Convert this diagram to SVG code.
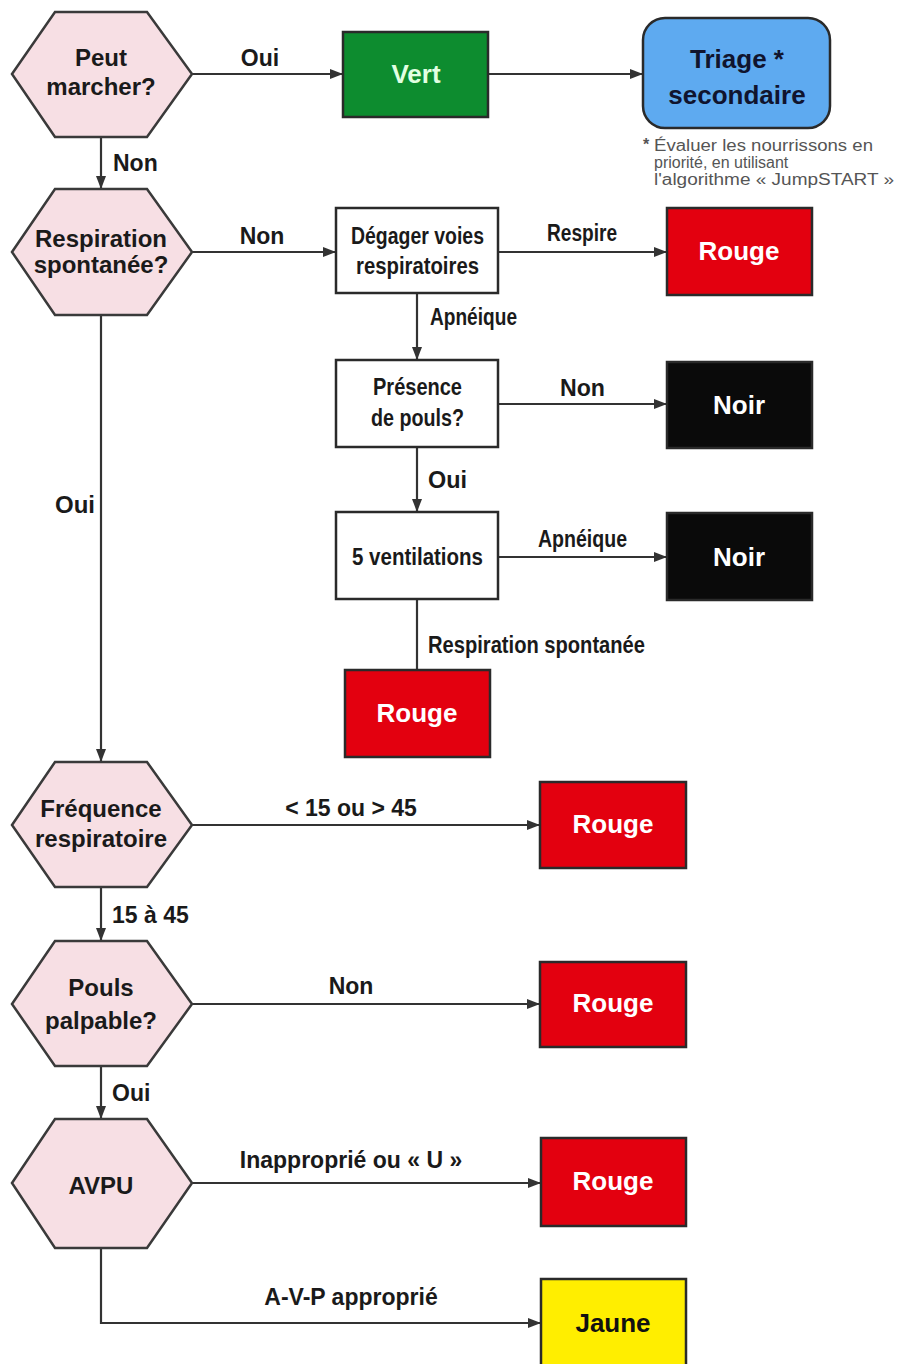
<svg xmlns="http://www.w3.org/2000/svg" width="902" height="1364" viewBox="0 0 902 1364">
<style>
.hex{fill:#f7dfe4;stroke:#3a3a3a;stroke-width:2.5}
.box{stroke:#2a2a2a;stroke-width:2.5}
.white{fill:#ffffff}
.red{fill:#e3000f}
.black{fill:#0a0a0a}
.green{fill:#0d8c2f}
.yellow{fill:#ffee00}
.blue{fill:#5eaaf0}
.ht{font-family:"Liberation Sans",Arial,sans-serif;font-weight:bold;font-size:24px;fill:#1a1a1a;text-anchor:middle;dominant-baseline:central}
.bt{font-family:"Liberation Sans",Arial,sans-serif;font-weight:bold;font-size:26px;text-anchor:middle;dominant-baseline:central}
.ct{font-family:"Liberation Sans",Arial,sans-serif;font-weight:bold;font-size:23px;fill:#1a1a1a;dominant-baseline:central}
.lb{font-family:"Liberation Sans",Arial,sans-serif;font-weight:bold;font-size:23px;fill:#1a1a1a;dominant-baseline:central}
.mid{text-anchor:middle}
.fn{font-family:"Liberation Sans",Arial,sans-serif;font-size:16px;fill:#555555}
.ln{fill:none;stroke:#333333;stroke-width:2.2}
</style>
<defs>
<marker id="ah" markerUnits="userSpaceOnUse" markerWidth="13" markerHeight="10" refX="12" refY="5" orient="auto">
<path d="M0,0 L13,5 L0,10 z" fill="#333333"/>
</marker>
</defs>
<rect width="902" height="1364" fill="#ffffff"/>

<g id="connectors">
<path class="ln" d="M192,74 H342" marker-end="url(#ah)"/>
<path class="ln" d="M488,74 H642" marker-end="url(#ah)"/>
<path class="ln" d="M101,137 V188" marker-end="url(#ah)"/>
<path class="ln" d="M192,252 H335" marker-end="url(#ah)"/>
<path class="ln" d="M498,252 H666" marker-end="url(#ah)"/>
<path class="ln" d="M417,293 V359" marker-end="url(#ah)"/>
<path class="ln" d="M498,404 H666" marker-end="url(#ah)"/>
<path class="ln" d="M417,447 V511" marker-end="url(#ah)"/>
<path class="ln" d="M498,557 H666" marker-end="url(#ah)"/>
<path class="ln" d="M417,599 V669"/>
<path class="ln" d="M101,315 V761" marker-end="url(#ah)"/>
<path class="ln" d="M192,825 H539" marker-end="url(#ah)"/>
<path class="ln" d="M101,887 V940" marker-end="url(#ah)"/>
<path class="ln" d="M192,1004 H539" marker-end="url(#ah)"/>
<path class="ln" d="M101,1066 V1118" marker-end="url(#ah)"/>
<path class="ln" d="M192,1183 H540" marker-end="url(#ah)"/>
<path class="ln" d="M101,1248 V1323 H540" marker-end="url(#ah)"/>
<text class="lb mid" x="260" y="58">Oui</text>
<text class="lb" x="113" y="163">Non</text>
<text class="lb mid" x="262" y="236">Non</text>
<text class="ct" x="547" y="233" textLength="70" lengthAdjust="spacingAndGlyphs">Respire</text>
<text class="ct" x="430" y="317" textLength="87" lengthAdjust="spacingAndGlyphs">Apnéique</text>
<text class="ct" x="560" y="388" textLength="45" lengthAdjust="spacingAndGlyphs">Non</text>
<text class="ct" x="428" y="480" textLength="39" lengthAdjust="spacingAndGlyphs">Oui</text>
<text class="ct" x="538" y="539" textLength="89" lengthAdjust="spacingAndGlyphs">Apnéique</text>
<text class="ct" x="428" y="645" textLength="217" lengthAdjust="spacingAndGlyphs">Respiration spontanée</text>
<text class="ct" x="55" y="505" textLength="40" lengthAdjust="spacingAndGlyphs">Oui</text>
<text class="lb mid" x="351" y="808">&lt; 15 ou &gt; 45</text>
<text class="lb" x="112" y="915">15 à 45</text>
<text class="lb mid" x="351" y="986">Non</text>
<text class="lb" x="112" y="1093">Oui</text>
<text class="lb mid" x="351" y="1160">Inapproprié ou « U »</text>
<text class="lb mid" x="351" y="1297">A-V-P approprié</text>
</g>

<g id="peut-marcher">
<polygon class="hex" points="12,74 55,12 147,12 192,74 147,137 55,137"/>
<text class="ht" x="101" y="57">Peut</text>
<text class="ht" x="101" y="86">marcher?</text>
</g>
<g id="vert">
<rect class="box green" x="343" y="32" width="145" height="85"/>
<text class="bt" x="416" y="74" fill="#e2ffe2">Vert</text>
</g>
<g id="triage-secondaire">
<rect class="box blue" x="643" y="18" width="187" height="110" rx="22"/>
<text class="bt" x="737" y="59" fill="#10142e" font-size="29">Triage *</text>
<text class="bt" x="737" y="95" fill="#10142e" font-size="29">secondaire</text>
</g>
<g id="footnote">
<text class="fn" x="643" y="150" font-weight="bold">*</text>
<text class="fn" x="654" y="151" textLength="219" lengthAdjust="spacingAndGlyphs">Évaluer les nourrissons en</text>
<text class="fn" x="654" y="168">priorité, en utilisant</text>
<text class="fn" x="654" y="185" textLength="240" lengthAdjust="spacingAndGlyphs">l'algorithme « JumpSTART »</text>
</g>

<g id="respiration-spontanee">
<polygon class="hex" points="12,252 55,189 147,189 192,252 147,315 55,315"/>
<text class="ht" x="101" y="238">Respiration</text>
<text class="ht" x="101" y="264">spontanée?</text>
</g>
<g id="degager">
<rect class="box white" x="336" y="208" width="162" height="85"/>
<text class="ct" x="351" y="236" textLength="133" lengthAdjust="spacingAndGlyphs">Dégager voies</text>
<text class="ct" x="356" y="266" textLength="123" lengthAdjust="spacingAndGlyphs">respiratoires</text>
</g>
<g id="rouge-1">
<rect class="box red" x="667" y="208" width="145" height="87"/>
<text class="bt" x="739" y="251" fill="#ffffff">Rouge</text>
</g>
<g id="presence-pouls">
<rect class="box white" x="336" y="360" width="162" height="87"/>
<text class="ct" x="373" y="387" textLength="89" lengthAdjust="spacingAndGlyphs">Présence</text>
<text class="ct" x="371" y="418" textLength="93" lengthAdjust="spacingAndGlyphs">de pouls?</text>
</g>
<g id="noir-1">
<rect class="box black" x="667" y="362" width="145" height="86"/>
<text class="bt" x="739" y="405" fill="#ffffff">Noir</text>
</g>
<g id="ventilations">
<rect class="box white" x="336" y="512" width="162" height="87"/>
<text class="ct" x="352" y="557" textLength="131" lengthAdjust="spacingAndGlyphs">5 ventilations</text>
</g>
<g id="noir-2">
<rect class="box black" x="667" y="513" width="145" height="87"/>
<text class="bt" x="739" y="557" fill="#ffffff">Noir</text>
</g>
<g id="rouge-2">
<rect class="box red" x="345" y="670" width="145" height="87"/>
<text class="bt" x="417" y="713" fill="#ffffff">Rouge</text>
</g>

<g id="frequence-respiratoire">
<polygon class="hex" points="12,825 55,762 147,762 192,825 147,887 55,887"/>
<text class="ht" x="101" y="808">Fréquence</text>
<text class="ht" x="101" y="838">respiratoire</text>
</g>
<g id="rouge-3">
<rect class="box red" x="540" y="782" width="146" height="86"/>
<text class="bt" x="613" y="824" fill="#ffffff">Rouge</text>
</g>

<g id="pouls-palpable">
<polygon class="hex" points="12,1004 55,941 147,941 192,1004 147,1066 55,1066"/>
<text class="ht" x="101" y="987">Pouls</text>
<text class="ht" x="101" y="1020">palpable?</text>
</g>
<g id="rouge-4">
<rect class="box red" x="540" y="962" width="146" height="85"/>
<text class="bt" x="613" y="1003" fill="#ffffff">Rouge</text>
</g>

<g id="avpu">
<polygon class="hex" points="12,1183 55,1119 147,1119 192,1183 147,1248 55,1248"/>
<text class="ht" x="101" y="1185" font-size="23">AVPU</text>
</g>
<g id="rouge-5">
<rect class="box red" x="541" y="1138" width="145" height="88"/>
<text class="bt" x="613" y="1181" fill="#ffffff">Rouge</text>
</g>
<g id="jaune">
<rect class="box yellow" x="541" y="1279" width="145" height="90"/>
<text class="bt" x="613" y="1323" fill="#111111" font-size="27">Jaune</text>
</g>
</svg>
